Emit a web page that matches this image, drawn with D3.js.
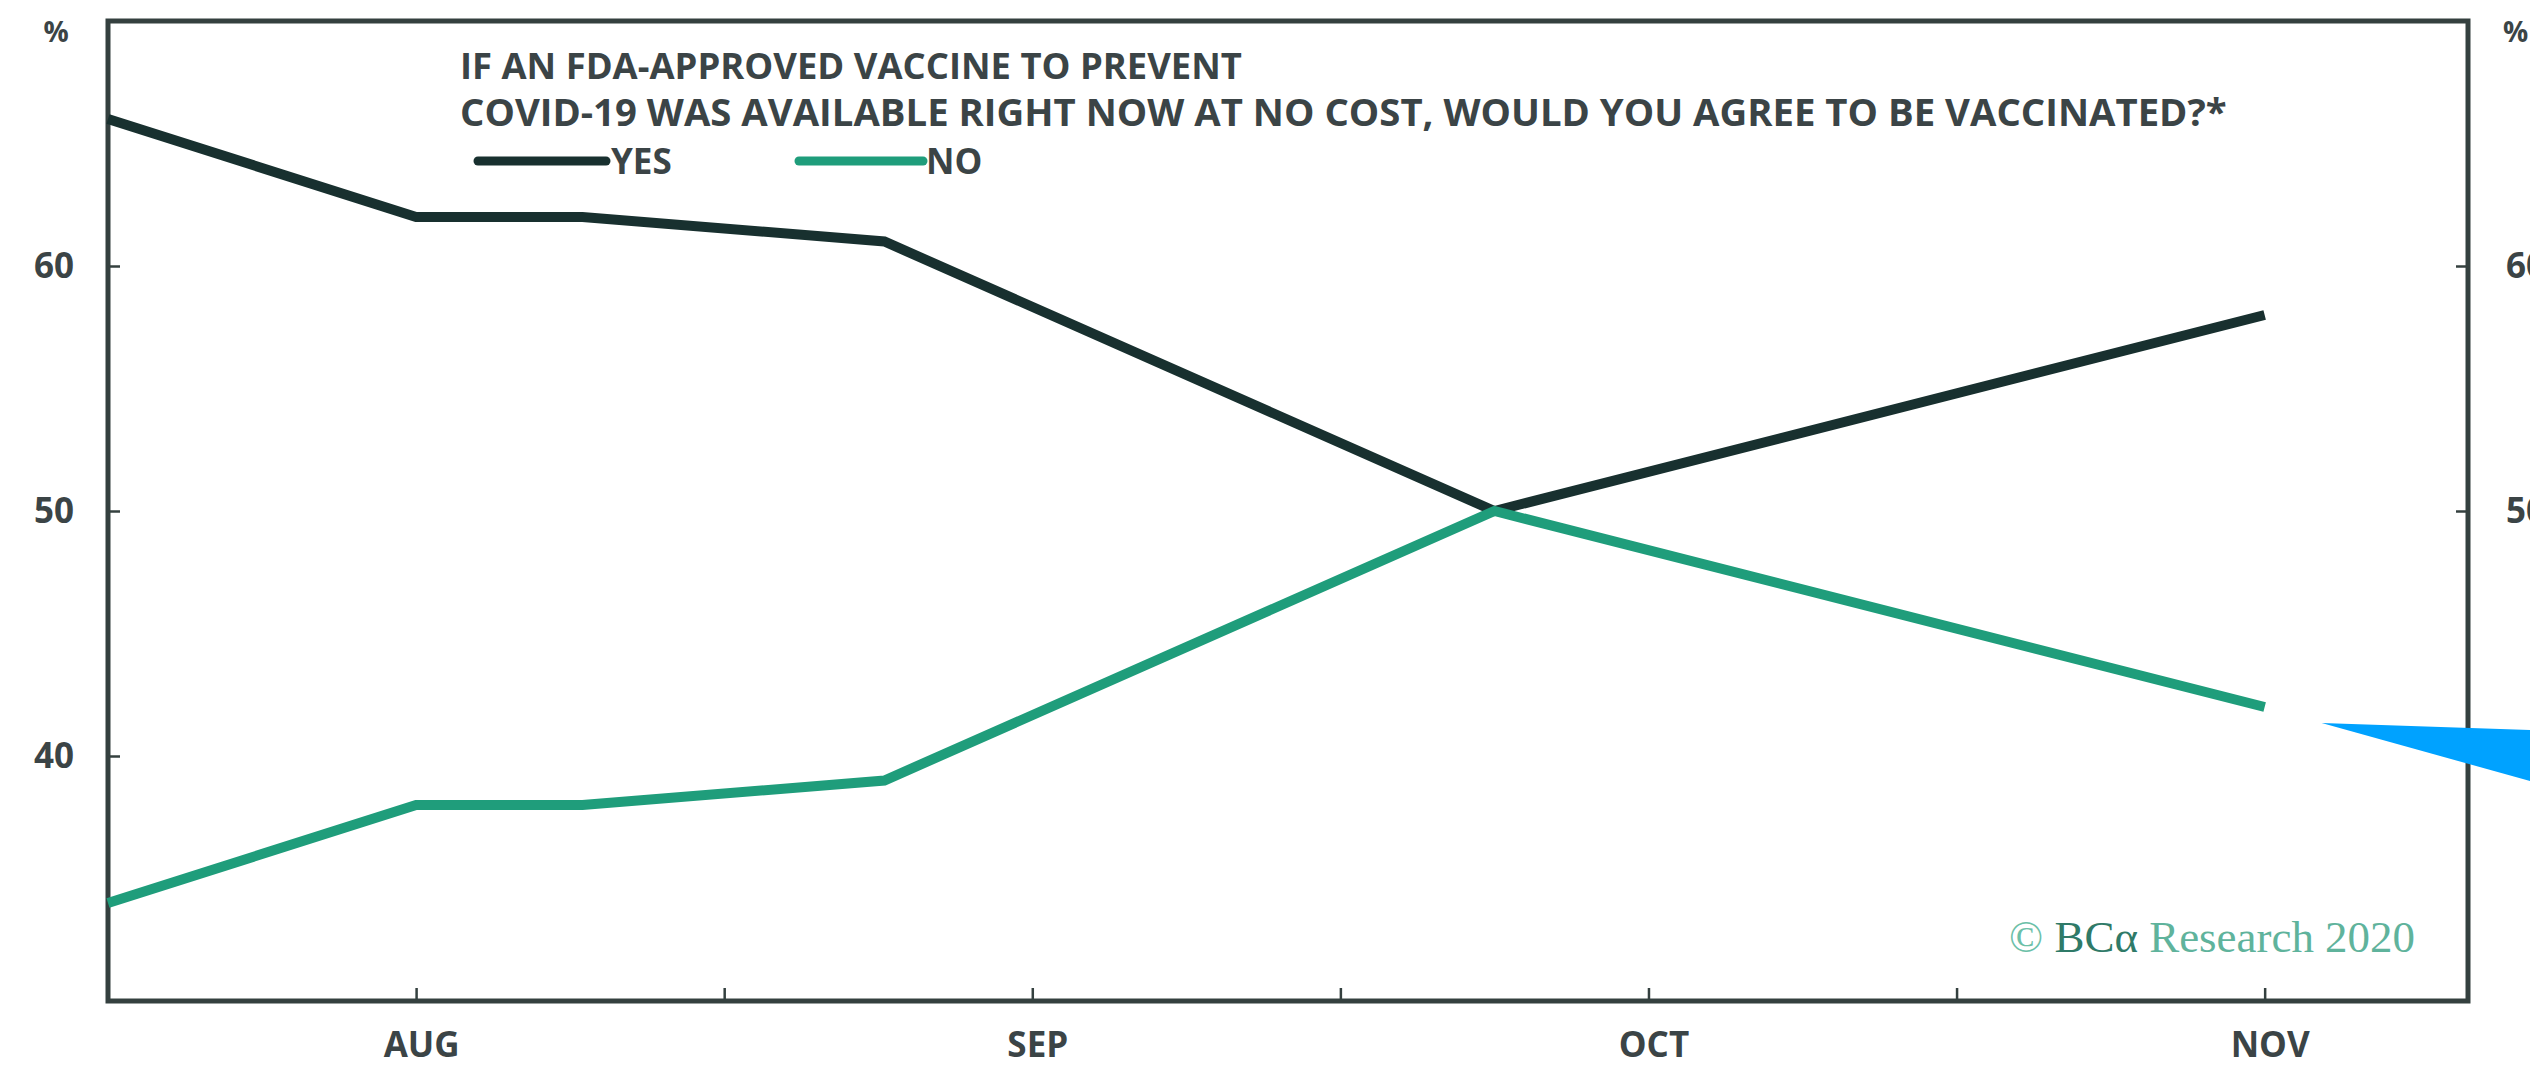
<!DOCTYPE html>
<html>
<head>
<meta charset="utf-8">
<script src="https://cdn.jsdelivr.net/npm/d3@7"></script>
<style>
  html, body { margin: 0; padding: 0; background: #ffffff; }
  svg { display: block; }
</style>
</head>
<body>
<svg id="chart" width="2530" height="1066"></svg>
<script>
// Survey timing, expressed in months (8 = start of August)
const surveyMonth = [7.5, 8.0, 8.27, 8.76, 9.75, 11.0];
// Share of respondents, %
const yesPct = [66, 62, 62, 61, 50, 58];
const noPct  = [34, 38, 38, 39, 50, 42];

const seriesNames = ["YES", "NO"];
const seriesColors = ["#18302f", "#1f9d7b"];

const xTickMonths = [8, 8.5, 9, 9.5, 10, 10.5, 11];
const monthLabels = { 8: "AUG", 9: "SEP", 10: "OCT", 11: "NOV" };
const yTicks = [40, 50, 60];

const titleLines = [
  "IF AN FDA-APPROVED VACCINE TO PREVENT",
  "COVID-19 WAS AVAILABLE RIGHT NOW AT NO COST, WOULD YOU AGREE TO BE VACCINATED?*"
];
const sourceNote = ["© ", "BCα", " Research 2020"];

const W = 2530, H = 1066;
const plot = { left: 108, right: 2468, top: 21, bottom: 1001 };
const frameColor = "#34403f";
const textColor = "#3b4446";
const font = "'Open Sans', 'DejaVu Sans', sans-serif";

const svg = d3.select("#chart");

const x = d3.scaleLinear().domain([7.5, 11.33]).range([plot.left, plot.right]);
const y = d3.scaleLinear().domain([30, 70]).range([plot.bottom, plot.top]);

// Frame around the plotting area
svg.append("rect")
  .attr("x", plot.left).attr("y", plot.top)
  .attr("width", plot.right - plot.left)
  .attr("height", plot.bottom - plot.top)
  .attr("fill", "none")
  .attr("stroke", frameColor)
  .attr("stroke-width", 5);

function styleAxis(g) {
  g.select(".domain").remove();
  g.selectAll(".tick line").attr("stroke", frameColor).attr("stroke-width", 2.5);
  g.selectAll(".tick text")
    .attr("fill", textColor)
    .style("font-family", font)
    .style("font-weight", 700)
    .style("font-size", "35px");
}

// Bottom axis: month labels, unlabeled mid-month ticks
svg.append("g")
  .attr("transform", `translate(0,${plot.bottom})`)
  .call(d3.axisBottom(x).tickValues(xTickMonths)
    .tickSize(-13).tickPadding(31)
    .tickFormat(m => monthLabels[m] || ""))
  .call(styleAxis)
  .call(g => g.selectAll(".tick text").attr("dx", 5));

// Left and right value axes
svg.append("g")
  .attr("transform", `translate(${plot.left},0)`)
  .call(d3.axisLeft(y).tickValues(yTicks).tickSize(-12).tickPadding(34))
  .call(styleAxis);

svg.append("g")
  .attr("transform", `translate(${plot.right},0)`)
  .call(d3.axisRight(y).tickValues(yTicks).tickSize(-12).tickPadding(38))
  .call(styleAxis);

// Unit markers above both axes
[[56, "middle"], [2503, "start"]].forEach(([px, anchor]) => {
  svg.append("text")
    .attr("x", px).attr("y", 42)
    .attr("text-anchor", anchor)
    .attr("fill", textColor)
    .style("font-family", font).style("font-weight", 700).style("font-size", "28px")
    .text("%");
});

// Series lines
const line = d3.line()
  .x((d, i) => x(surveyMonth[i]))
  .y(d => y(d))
  .curve(d3.curveLinear);

[yesPct, noPct].forEach((vals, k) => {
  svg.append("path")
    .datum(vals)
    .attr("d", line)
    .attr("fill", "none")
    .attr("stroke", seriesColors[k])
    .attr("stroke-width", 10)
    .attr("stroke-linejoin", "miter")
    .attr("stroke-linecap", "butt");
});

// Title, font size fitted to each line's width
const titleX = 460;
const titleBaselines = [79, 126];
const titleWidths = [782, 1767];
titleLines.forEach((t, i) => {
  const el = svg.append("text")
    .attr("x", titleX).attr("y", titleBaselines[i])
    .attr("fill", textColor)
    .style("font-family", font).style("font-weight", 700).style("font-size", "34px")
    .text(t);
  const w = el.node().getComputedTextLength();
  el.style("font-size", (34 * titleWidths[i] / w).toFixed(2) + "px");
});

// Legend
const legendItems = [
  { x0: 478, x1: 606, tx: 611 },
  { x0: 799, x1: 923, tx: 926 }
];
legendItems.forEach((it, k) => {
  svg.append("line")
    .attr("x1", it.x0).attr("x2", it.x1)
    .attr("y1", 161).attr("y2", 161)
    .attr("stroke", seriesColors[k])
    .attr("stroke-width", 9)
    .attr("stroke-linecap", "round");
  svg.append("text")
    .attr("x", it.tx).attr("y", 174)
    .attr("fill", textColor)
    .style("font-family", font).style("font-weight", 700).style("font-size", "35px")
    .text(seriesNames[k]);
});

// Source note
const note = svg.append("text")
  .attr("x", 2415).attr("y", 952)
  .attr("text-anchor", "end")
  .style("font-family", "'Liberation Serif', 'DejaVu Serif', serif")
  .style("font-size", "34px");
note.append("tspan").attr("fill", "#6cc0a8").text(sourceNote[0]);
note.append("tspan").attr("fill", "#2f7a68").text(sourceNote[1]);
note.append("tspan").attr("fill", "#5fb39c").text(sourceNote[2]);
const nw = note.node().getComputedTextLength();
note.style("font-size", (34 * 406 / nw).toFixed(2) + "px");

// Pointer wedge aimed at the latest "NO" reading
const tipX = x(surveyMonth[surveyMonth.length - 1]) + 57;
const tipY = y(noPct[noPct.length - 1]) + 16;
svg.append("path")
  .attr("d", d3.line()([[tipX, tipY], [W, tipY + 7], [W, tipY + 58]]) + "Z")
  .attr("fill", "#00a2ff");
</script>
</body>
</html>
